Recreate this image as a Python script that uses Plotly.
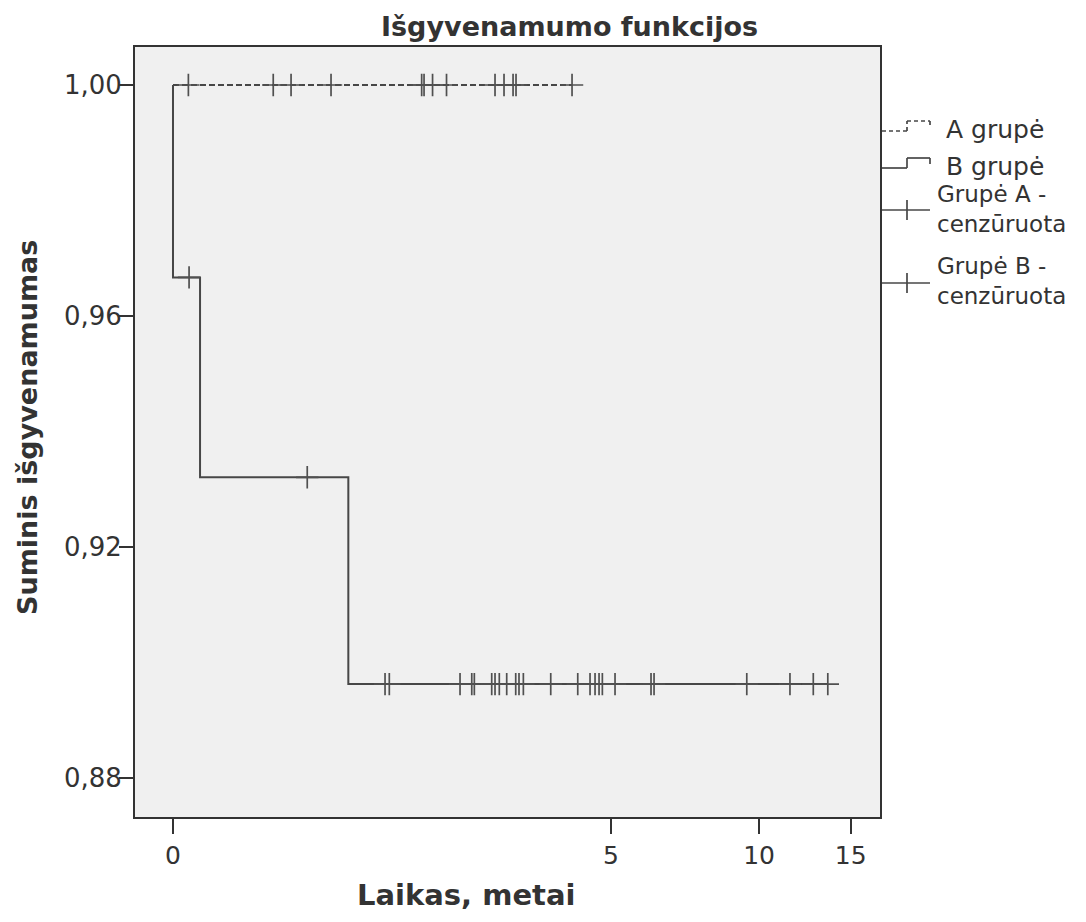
import plotly.graph_objects as go

# ---------------- data ----------------
group_a_censored = [0.065, 0.507, 0.621, 0.909, 1.766, 1.793, 1.892, 2.062,
                    2.734, 2.874, 3.020, 3.069, 4.117]
group_a_survival = 1.0

group_b_events = [0.0, 0.117, 1.049]
group_b_survival = [0.9667, 0.9321, 0.8963]
group_b_censored = [0.068, 0.732, 1.381, 1.423, 2.236, 2.395, 2.431, 2.684,
                    2.734, 2.800, 2.917, 3.064, 3.119, 3.193, 3.690, 4.238,
                    4.508, 4.622, 4.715, 4.793, 5.101, 6.069, 6.157, 9.459,
                    11.48, 12.73, 13.57]

x_tick_values = [0, 5, 10, 15]
x_tick_labels = ["0", "5", "10", "15"]
y_tick_values = [1.00, 0.96, 0.92, 0.88]
y_tick_labels = ["1,00", "0,96", "0,92", "0,88"]

title_text = "Išgyvenamumo funkcijos"
x_title = "Laikas, metai"
y_title = "Suminis išgyvenamumas"
legend_labels = ["A grupė", "B grupė", "Grupė A -<br>cenzūruota", "Grupė B -<br>cenzūruota"]

# the time axis of the reference is a log(1 + t) scale
OFFSET = 1.0


def tx(values):
    return [v + OFFSET for v in values]


def surv_b(t):
    s = 1.0
    for e, v in zip(group_b_events, group_b_survival):
        if t >= e:
            s = v
    return s


LINE = "#474747"
MARK = "#505050"
TXT = "#333333"
FONT = "DejaVu Sans"

# the page adds an 8px body margin; the figure is sized to compensate
PAGE = 8
W, H = 1086 - PAGE, 922 - PAGE
L, R, T, B = 135 - PAGE, 206, 47 - PAGE, 105
PW, PH = W - L - R, H - T - B


def px(x):
    return (x - PAGE - L) / PW


def py(y):
    return (H + PAGE - B - y) / PH


fig = go.Figure()

# group A line (dashed)
fig.add_trace(go.Scatter(
    x=tx([0, max(group_a_censored)]), y=[group_a_survival, group_a_survival],
    mode="lines", line=dict(color=LINE, width=2, dash="6px,3px"),
    showlegend=False, hoverinfo="skip"))

# group B step line
bx = [0] + group_b_events + [max(group_b_censored)]
by = [1.0] + group_b_survival + [group_b_survival[-1]]
fig.add_trace(go.Scatter(
    x=tx(bx), y=by, mode="lines", line_shape="hv",
    line=dict(color=LINE, width=2), showlegend=False, hoverinfo="skip"))

# censor marks
fig.add_trace(go.Scatter(
    x=tx(group_a_censored), y=[group_a_survival] * len(group_a_censored),
    mode="markers",
    marker=dict(symbol="cross-thin", size=16, line=dict(color=MARK, width=1.7)),
    showlegend=False, hoverinfo="skip"))
fig.add_trace(go.Scatter(
    x=tx(group_b_censored), y=[surv_b(t) for t in group_b_censored],
    mode="markers",
    marker=dict(symbol="cross-thin", size=16, line=dict(color=MARK, width=1.7)),
    showlegend=False, hoverinfo="skip"))

# ---------------- manual legend ----------------
shapes = []


def seg(x0, y0, x1, y1, dash="solid"):
    shapes.append(dict(type="line", xref="paper", yref="paper",
                       x0=px(x0), y0=py(y0), x1=px(x1), y1=py(y1),
                       line=dict(color=LINE, width=1.7, dash=dash)))


# A group icon (dashed step)
seg(882, 131, 907, 131, "4px,3px")
seg(907, 131, 907, 121, "4px,3px")
seg(907, 121, 930, 121, "4px,3px")
seg(930, 121, 930, 127, "4px,3px")
# B group icon (solid step)
seg(882, 168, 907, 168)
seg(907, 168, 907, 158)
seg(907, 158, 930, 158)
seg(930, 158, 930, 164)
# censored icons
for yc in (210, 283):
    seg(882, yc, 930, yc)
    seg(907, yc - 10, 907, yc + 10)

annotations = []


def txt(x, y, s, size=25, bold=False, anchor="left", angle=0):
    annotations.append(dict(
        x=px(x), y=py(y), xref="paper", yref="paper", text=("<b>%s</b>" % s) if bold else s,
        showarrow=False, xanchor=anchor, yanchor="middle", textangle=angle, align="left",
        font=dict(family=FONT, size=size, color=TXT)))


txt(944, 129, legend_labels[0], size=25)
txt(944, 166, legend_labels[1], size=25)
txt(935, 209, legend_labels[2], size=23)
txt(935, 281, legend_labels[3], size=23)

txt(569, 27, title_text, size=27, bold=True, anchor="center")
txt(466, 895, x_title, size=29, bold=True, anchor="center")
txt(27, 428, y_title, size=27, bold=True, anchor="center", angle=-90)

fig.update_layout(
    width=W, height=H,
    margin=dict(l=L, r=R, t=T, b=B, pad=0),
    paper_bgcolor="white", plot_bgcolor="#f0f0f0",
    shapes=shapes, annotations=annotations,
    showlegend=False,
)

fig.update_xaxes(
    type="log", range=[-0.0675, 1.2562],
    tickvals=tx(x_tick_values), ticktext=x_tick_labels,
    ticks="outside", ticklen=15, tickwidth=2, tickcolor="#333333",
    showline=True, linecolor="#333333", linewidth=2, mirror=True,
    showgrid=False, zeroline=False,
    tickfont=dict(family=FONT, size=25, color=TXT),
    ticklabelstandoff=0,
)
fig.update_yaxes(
    range=[0.8733, 1.00658],
    tickvals=y_tick_values, ticktext=y_tick_labels,
    ticks="outside", ticklen=14, tickwidth=2, tickcolor="#333333",
    showline=True, linecolor="#333333", linewidth=2, mirror=True,
    showgrid=False, zeroline=False,
    tickfont=dict(family=FONT, size=26, color=TXT),
    ticklabelstandoff=-8,
)

fig.write_html("out.html")
